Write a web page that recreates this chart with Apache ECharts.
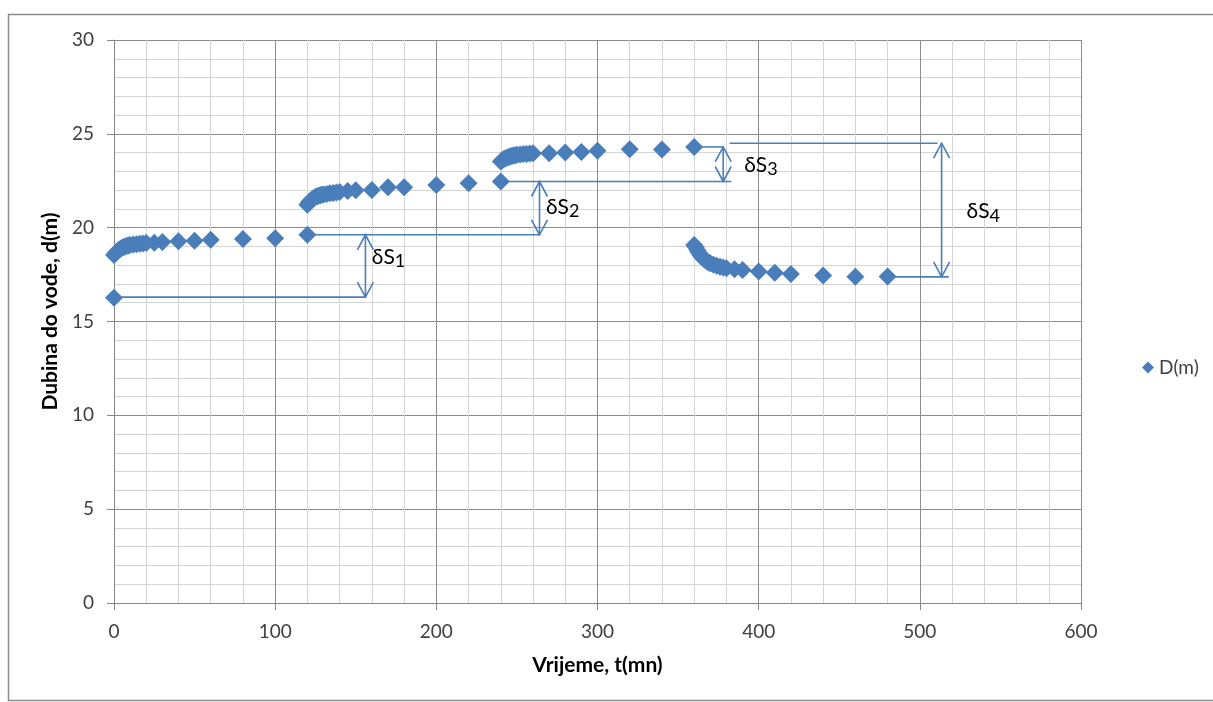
<!DOCTYPE html>
<html><head><meta charset="utf-8">
<script src="https://cdn.jsdelivr.net/npm/echarts@6/dist/echarts.min.js"></script>
<style>html,body{margin:0;padding:0;background:#fff}#c{width:1213px;height:702px}</style>
</head><body><div id="c"></div>
<script>
// Measured series D(m): time t (min) and depth d (m)
const tValues = [0,0,1,2,3,4,5,6,7,8,9,10,12,14,16,18,20,25,30,40,50,60,80,100,120,
  120,121,122,123,124,125,126,127,128,129,130,132,134,136,138,140,145,150,160,170,180,200,220,240,
  240,241,242,243,244,245,246,247,248,249,250,252,254,256,258,260,270,280,290,300,320,340,360,
  360,361,362,363,364,365,366,367,368,369,370,372,374,376,378,380,385,390,400,410,420,440,460,480];
const dValues = [16.27,18.55,18.65,18.75,18.82,18.88,18.93,18.97,19.0,19.03,19.05,19.07,19.1,19.12,19.14,19.16,19.18,19.2,19.23,19.27,19.3,19.35,19.4,19.44,19.62,
  21.22,21.35,21.45,21.52,21.58,21.63,21.67,21.7,21.73,21.75,21.77,21.8,21.83,21.85,21.87,21.9,21.95,22.0,22.01,22.15,22.15,22.28,22.37,22.46,
  23.53,23.6,23.66,23.7,23.74,23.77,23.8,23.82,23.84,23.86,23.88,23.9,23.92,23.93,23.95,23.96,23.97,24.0,24.03,24.1,24.18,24.16,24.3,
  19.08,18.95,18.8,18.65,18.52,18.42,18.33,18.26,18.2,18.15,18.1,18.03,17.97,17.92,17.88,17.84,17.78,17.74,17.66,17.6,17.53,17.45,17.39,17.4];

// Annotation segments: [t1, d1, t2, d2, arrowAtStart, arrowAtEnd]
const annoSegments = [
  [0,16.3,156,16.3,0,0],
  [120,19.62,264,19.62,0,0],
  [156,16.3,156,19.62,1,1],
  [240,22.46,383,22.46,0,0],
  [264,19.62,264,22.46,1,1],
  [360,24.3,378,24.3,0,0],
  [378,22.46,378,24.3,1,1],
  [382,24.5,511,24.5,0,0],
  [513.5,17.38,513.5,24.5,1,1],
  [480,17.38,518,17.38,0,0]
];
// Annotation labels: [t, d, main text, index]
const annoLabels = [
  [160,18.45,'δS','1'],
  [268,21.1,'δS','2'],
  [391,23.35,'δS','3'],
  [529,20.85,'δS','4']
];
const xTicks = {min:0,max:600,interval:100};
const yTicks = {min:0,max:30,interval:5};

const blue = '#4A7EBB';
const font = 'Lato, "Open Sans", sans-serif';
const points = tValues.map((t,i)=>[t,dValues[i]]);

const chart = echarts.init(document.getElementById('c'));
chart.setOption({
  animation:false,
  backgroundColor:'#fff',
  graphic:[{type:'rect',shape:{x:8.5,y:14.5,width:1220,height:686},style:{fill:'none',stroke:'#8c8c8c',lineWidth:1.5},silent:true,z:-10}],
  grid:{left:114,right:132,top:40,bottom:99,containLabel:false},
  legend:{data:[{name:'D(m)',icon:'diamond'}],left:1137,top:353,itemWidth:12,itemHeight:12,itemGap:6,
    textStyle:{fontFamily:font,fontSize:19,color:'#404040'}},
  xAxis:{type:'value',min:xTicks.min,max:xTicks.max,interval:xTicks.interval,
    name:'Vrijeme, t(mn)',nameLocation:'middle',nameGap:52,
    nameTextStyle:{fontFamily:font,fontSize:21,fontWeight:'bold',color:'#000'},
    axisLine:{show:true,lineStyle:{color:'#868686',width:1}},
    axisTick:{show:true,length:7,lineStyle:{color:'#868686'}},
    axisLabel:{fontFamily:font,fontSize:19,color:'#404040',margin:19},
    splitLine:{show:true,lineStyle:{color:'#8c8c8c',width:1}},
    minorTick:{show:false,splitNumber:5},
    minorSplitLine:{show:true,lineStyle:{color:'#d4d4d4',width:1}}},
  yAxis:{type:'value',min:yTicks.min,max:yTicks.max,interval:yTicks.interval,
    name:'Dubina do vode, d(m)',nameLocation:'middle',nameGap:49,
    nameTextStyle:{fontFamily:font,fontSize:21,fontWeight:'bold',color:'#000',padding:[0,0,0,20]},
    axisLine:{show:true,lineStyle:{color:'#868686',width:1}},
    axisTick:{show:true,length:7,lineStyle:{color:'#868686'}},
    axisLabel:{fontFamily:font,fontSize:19,color:'#404040',margin:20},
    splitLine:{show:true,lineStyle:{color:'#8c8c8c',width:1}},
    minorTick:{show:false,splitNumber:5},
    minorSplitLine:{show:true,lineStyle:{color:'#d4d4d4',width:1}}},
  series:[
    {name:'annotations',type:'custom',clip:false,z:3,silent:true,
     data:annoSegments,
     encode:{x:[0,2],y:[1,3]},
     renderItem:function(params,api){
       const p1=api.coord([api.value(0),api.value(1)]);
       const p2=api.coord([api.value(2),api.value(3)]);
       const style={stroke:blue,lineWidth:1.6,fill:'none'};
       const children=[{type:'line',shape:{x1:p1[0],y1:p1[1],x2:p2[0],y2:p2[1]},style:style}];
       const head=(tip,from)=>{
         const dx=tip[0]-from[0],dy=tip[1]-from[1];const L=Math.hypot(dx,dy)||1;
         const ux=dx/L,uy=dy/L;const len=15,w=8;
         return {type:'polyline',shape:{points:[[tip[0]-ux*len-uy*w,tip[1]-uy*len+ux*w],tip,[tip[0]-ux*len+uy*w,tip[1]-uy*len-ux*w]]},style:style};
       };
       if(api.value(4))children.push(head(p1,p2));
       if(api.value(5))children.push(head(p2,p1));
       return {type:'group',children:children};
     }},
    {name:'labels',type:'custom',clip:false,z:4,silent:true,
     data:annoLabels.map(a=>[a[0],a[1]]),
     encode:{x:0,y:1},
     renderItem:function(params,api){
       const p=api.coord([api.value(0),api.value(1)]);
       const a=annoLabels[params.dataIndex];
       return {type:'text',x:p[0],y:p[1],style:{text:'{s|'+a[2]+'}{n|'+a[3]+'}',fontFamily:font,fill:'#000',verticalAlign:'middle',align:'left',
         rich:{s:{fontFamily:font,fontSize:21,lineHeight:26,fill:'#000'},n:{fontFamily:font,fontSize:18,lineHeight:18,verticalAlign:'bottom',fill:'#000'}}}};
     }},
    {name:'D(m)',type:'scatter',symbol:'diamond',symbolSize:18,z:5,
     itemStyle:{color:blue,opacity:1},data:points}
  ]
});
</script></body></html>
